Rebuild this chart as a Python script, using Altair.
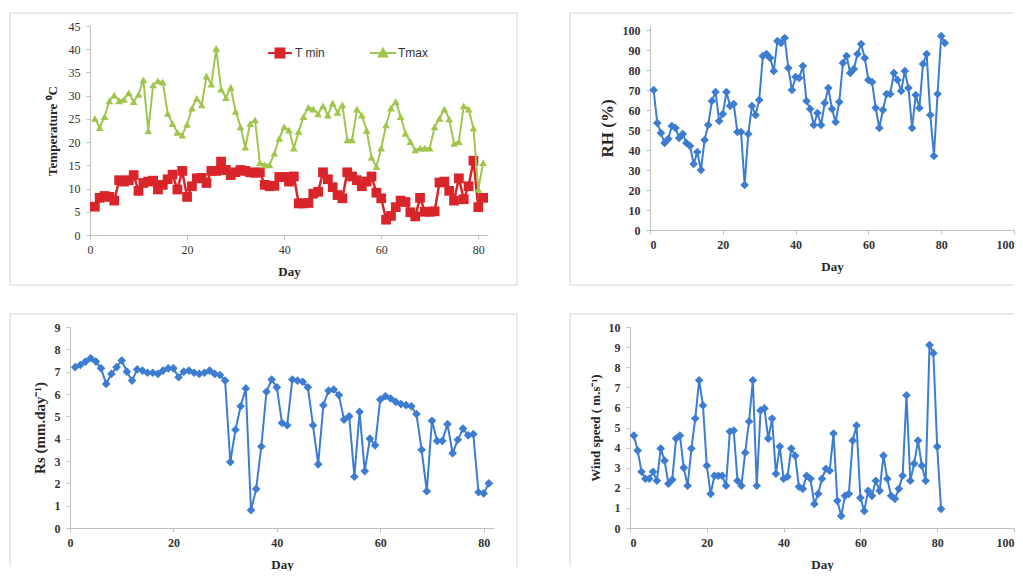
import altair as alt
import pandas as pd

days = list(range(1, 82))

tmin = [6.1, 8.0, 8.4, 8.2, 7.4, 11.8, 11.5, 11.8, 12.9, 9.5,
        11.2, 11.5, 11.7, 9.8, 10.8, 12.0, 13.0, 9.8, 13.8, 8.2,
        10.5, 12.2, 12.3, 11.2, 13.8, 13.8, 15.8, 14.0, 12.9, 13.5,
        14.0, 13.8, 13.5, 13.4, 13.5, 10.8, 10.5, 10.6, 12.5, 12.5,
        11.5, 12.6, 6.8, 6.8, 6.9, 8.9, 9.3, 13.5, 12.0, 10.3,
        8.6, 7.9, 13.5, 12.6, 11.8, 10.5, 11.5, 12.6, 9.1, 7.9,
        3.3, 4.1, 6.0, 7.4, 7.1, 4.9, 4.0, 8.0, 5.0, 5.0,
        5.1, 11.3, 11.5, 9.5, 7.4, 12.2, 7.7, 10.5, 16.0, 6.0, 8.0]

tmax = [25.1, 23.1, 25.5, 28.9, 30.1, 28.9, 29.2, 30.6, 28.7, 30.3,
        33.4, 22.4, 32.3, 33.2, 32.9, 26.2, 24.0, 22.1, 21.5, 23.8,
        27.3, 29.4, 28.0, 34.2, 32.5, 40.2, 31.4, 29.6, 31.8, 26.6,
        23.3, 18.9, 24.0, 24.8, 15.6, 15.1, 15.1, 17.6, 20.8, 23.3,
        22.6, 18.7, 22.3, 25.5, 27.5, 27.1, 26.1, 27.8, 25.8, 28.4,
        26.4, 28.0, 20.5, 20.5, 27.1, 25.8, 22.5, 16.7, 14.7, 18.7,
        23.7, 27.3, 28.7, 25.5, 21.9, 20.1, 18.3, 18.7, 18.7, 18.7,
        23.3, 25.1, 27.1, 25.0, 19.7, 20.1, 27.8, 27.1, 23.0, 9.8, 15.6]

rh = [70, 53.5, 48.5, 43.5, 45.5, 52, 51, 46, 48, 43.5,
      42, 33, 39, 30, 45, 52.5, 64.5, 69, 54.5, 58,
      69, 62, 63, 49, 49, 22.5, 48, 62, 57.5, 65,
      87, 88, 86, 79.5, 94.5, 93.5, 96, 81, 70, 76.5,
      76, 82, 64.5, 60.5, 52.5, 58.5, 52.5, 63.5, 71, 60.5,
      54, 64, 83.5, 87, 78.5, 80.5, 88, 93, 86, 75,
      74, 61, 51, 60, 68, 68, 78.5, 75, 69.5, 79.5,
      71, 51, 67.5, 61, 83, 88, 57.5, 37, 68, 97, 93.5]

rs = [7.2, 7.3, 7.45, 7.6, 7.45, 7.15, 6.45, 6.9, 7.2, 7.5,
      7.0, 6.6, 7.1, 7.05, 6.95, 6.95, 6.9, 7.05, 7.15, 7.15,
      6.75, 7.0, 7.05, 6.95, 6.9, 6.95, 7.05, 6.9, 6.85, 6.6,
      2.95, 4.4, 5.45, 6.25, 0.8, 1.75, 3.65, 6.1, 6.65, 6.3,
      4.7, 4.6, 6.65, 6.6, 6.55, 6.3, 4.6, 2.85, 5.5, 6.15,
      6.2, 5.95, 4.85, 5.0, 2.3, 5.2, 2.55, 4.0, 3.7, 5.75,
      5.9, 5.8, 5.65, 5.55, 5.5, 5.45, 5.1, 3.5, 1.65, 4.8,
      3.9, 3.9, 4.65, 3.35, 3.95, 4.45, 4.15, 4.2, 1.6, 1.55, 2.0]

wind = [4.6, 3.85, 2.8, 2.45, 2.45, 2.8, 2.35, 3.95, 3.35, 2.2,
        2.4, 4.45, 4.6, 3.0, 2.1, 3.95, 5.45, 7.35, 6.1, 3.1,
        1.7, 2.6, 2.6, 2.6, 2.1, 4.8, 4.85, 2.35, 2.1, 3.75,
        5.3, 7.35, 2.1, 5.85, 5.95, 4.45, 5.45, 2.7, 4.05, 2.45,
        2.55, 3.95, 3.6, 2.05, 1.95, 2.6, 2.45, 1.2, 1.7, 2.45,
        2.95, 2.85, 4.7, 1.35, 0.6, 1.6, 1.7, 4.35, 5.1, 1.5,
        0.85, 1.85, 1.6, 2.35, 1.85, 3.6, 2.45, 1.6, 1.45, 1.95,
        2.6, 6.6, 2.35, 3.2, 4.35, 3.1, 2.35, 9.1, 8.7, 4.05, 0.95]

series_names = ["T min", "Tmax"]

RED = "#d9252a"
GREEN = "#a0c64e"
BLUE = "#3c7dd1"
FRAME = "#d4d4d4"
AXIS = "#bfbfbf"
SERIF = "Liberation Serif"
SANS = "Liberation Sans"

one = pd.DataFrame({"k": [0]})


def frame_layers(left, top, right, bottom, edges):
    out = []
    if "top" in edges:
        out.append(alt.Chart(one).mark_rule(color=FRAME, strokeWidth=1).encode(
            x=alt.value(left), x2=alt.value(right), y=alt.value(top)))
    if "bottom" in edges:
        out.append(alt.Chart(one).mark_rule(color=FRAME, strokeWidth=1).encode(
            x=alt.value(left), x2=alt.value(right), y=alt.value(bottom)))
    if "left" in edges:
        out.append(alt.Chart(one).mark_rule(color=FRAME, strokeWidth=1).encode(
            x=alt.value(left), y=alt.value(top), y2=alt.value(bottom)))
    if "right" in edges:
        out.append(alt.Chart(one).mark_rule(color=FRAME, strokeWidth=1).encode(
            x=alt.value(right), y=alt.value(top), y2=alt.value(bottom)))
    return out


def x_enc(xmax, xticks, w, lw, flush):
    return alt.X("day:Q", scale=alt.Scale(domain=[0, xmax], nice=False, zero=True),
                 axis=alt.Axis(values=xticks, title="Day", grid=False,
                               titleFont=SERIF, titleFontSize=13, titleFontWeight="bold",
                               titleColor="#262626", titleBaseline="middle",
                               titleX=w / 2, titleY=36, labelFlush=flush,
                               labelFont=SERIF, labelFontSize=12, labelFontWeight=lw,
                               labelColor="#333333", labelPadding=5,
                               domainColor=AXIS, tickColor=AXIS, tickSize=4))


def y_enc(ymax, yticks, title, h, tx, tsize, lw):
    return alt.Y("value:Q", scale=alt.Scale(domain=[0, ymax], nice=False),
                 axis=alt.Axis(values=yticks, title=title, grid=False,
                               titleFont=SERIF, titleFontSize=tsize, titleFontWeight="bold",
                               titleColor="#262626", titleBaseline="middle",
                               titleX=tx, titleY=h / 2, titleAngle=270,
                               labelFont=SERIF, labelFontSize=12, labelFontWeight=lw,
                               labelColor="#333333", labelPadding=6,
                               domainColor=AXIS, tickColor=AXIS, tickSize=4))


# ---------- Panel 1: temperature ----------
W1, H1 = 398, 209
df_min = pd.DataFrame({"day": days, "value": tmin, "series": series_names[0]})
df_max = pd.DataFrame({"day": days, "value": tmax, "series": series_names[1]})
x1 = x_enc(82, [0, 20, 40, 60, 80], W1, "normal", False)
y1 = y_enc(45, list(range(0, 50, 5)), "Temperature \u2070C", H1, -38, 13, "normal")

sq_path = "M-1.2,0H1.2M-0.45,-0.45H0.45V0.45H-0.45Z"
tri_path = "M-1.3,0H1.3M0,-0.42L0.42,0.34H-0.42Z"

line_min = alt.Chart(df_min).mark_line(color=RED, strokeWidth=2.5).encode(x=x1, y=y1)
pts_min = alt.Chart(df_min).mark_point(shape="square", filled=True, size=95, opacity=1).encode(
    x=x1, y=y1,
    color=alt.Color("series:N", scale=alt.Scale(domain=[series_names[0]], range=[RED]),
                    legend=alt.Legend(title=None, orient="none", legendX=179, legendY=16,
                                      symbolType=sq_path, symbolSize=400,
                                      symbolFillColor=RED, symbolStrokeColor=RED,
                                      symbolStrokeWidth=2, symbolOpacity=1,
                                      labelFont=SANS, labelFontSize=12, labelColor="#333333",
                                      labelOffset=4, padding=0)))
line_max = alt.Chart(df_max).mark_line(color=GREEN, strokeWidth=2).encode(x=x1, y=y1)
pts_max = alt.Chart(df_max).mark_point(shape="triangle-up", filled=True, size=60, opacity=1).encode(
    x=x1, y=y1,
    color=alt.Color("series:N", scale=alt.Scale(domain=[series_names[1]], range=[GREEN]),
                    legend=alt.Legend(title=None, orient="none", legendX=282, legendY=16,
                                      symbolType=tri_path, symbolSize=400,
                                      symbolFillColor=GREEN, symbolStrokeColor=GREEN,
                                      symbolStrokeWidth=2, symbolOpacity=1,
                                      labelFont=SANS, labelFontSize=12, labelColor="#333333",
                                      labelOffset=4, padding=0)))

p1 = alt.layer(*frame_layers(-80, -13, 427, 259, ["top", "bottom", "left", "right"]),
               line_min, pts_min, line_max, pts_max).resolve_scale(color="independent").properties(
    width=W1, height=H1)


def blue_panel(values, xmax, xticks, ymax, yticks, title, w, h, tx, tsize, frame, edges, flush):
    df = pd.DataFrame({"day": days, "value": values})
    xe = x_enc(xmax, xticks, w, "bold", flush)
    ye = y_enc(ymax, yticks, title, h, tx, tsize, "bold")
    line = alt.Chart(df).mark_line(color=BLUE, strokeWidth=2).encode(x=xe, y=ye)
    pts = alt.Chart(df).mark_point(shape="diamond", filled=True, size=75, opacity=1,
                                   color=BLUE).encode(x=xe, y=ye)
    return alt.layer(*frame_layers(*frame, edges), line, pts).properties(width=w, height=h)


# ---------- Panel 2: RH ----------
W2, H2 = 364, 204
p2 = blue_panel(rh, 100, [0, 20, 40, 60, 80, 100], 102, list(range(0, 110, 10)),
                "RH (%)", W2, H2, -43, 17, (-80, -13, W2, 259), ["top", "bottom", "left"], True)

# ---------- Panel 3: Rs ----------
W3, H3 = 424, 201
p3 = blue_panel(rs, 82, [0, 20, 40, 60, 80], 9, list(range(0, 10)),
                "Rs (mm.day\u207b\u00b9)", W3, H3, -31, 15, (-60, -13, 447, 240),
                ["top", "left", "right"], False)

# ---------- Panel 4: Wind speed ----------
W4, H4 = 384, 201
p4 = blue_panel(wind, 100, [0, 20, 40, 60, 80, 100], 10, list(range(0, 11)),
                "Wind speed ( m.s\u207b\u00b9)", W4, H4, -35, 13, (-60, -13, W4, 240),
                ["top", "left"], True)


def spacer():
    return alt.Chart(one).mark_rule(opacity=0, strokeWidth=1).encode(
        x=alt.value(0), x2=alt.value(1), y=alt.value(0)).properties(width=1, height=1)


row1 = alt.hconcat(spacer(), alt.hconcat(p1, p2, spacing=51), spacing=0)
row2 = alt.hconcat(spacer(), alt.hconcat(p3, p4, spacing=51), spacing=0)

chart = alt.vconcat(row1, row2, spacing=27).properties(
    padding={"left": 0, "top": 4, "right": 0, "bottom": 0},
    background="white",
).configure_view(stroke=None)

chart.save("out.html", embed_options={"renderer": "svg", "actions": False})
